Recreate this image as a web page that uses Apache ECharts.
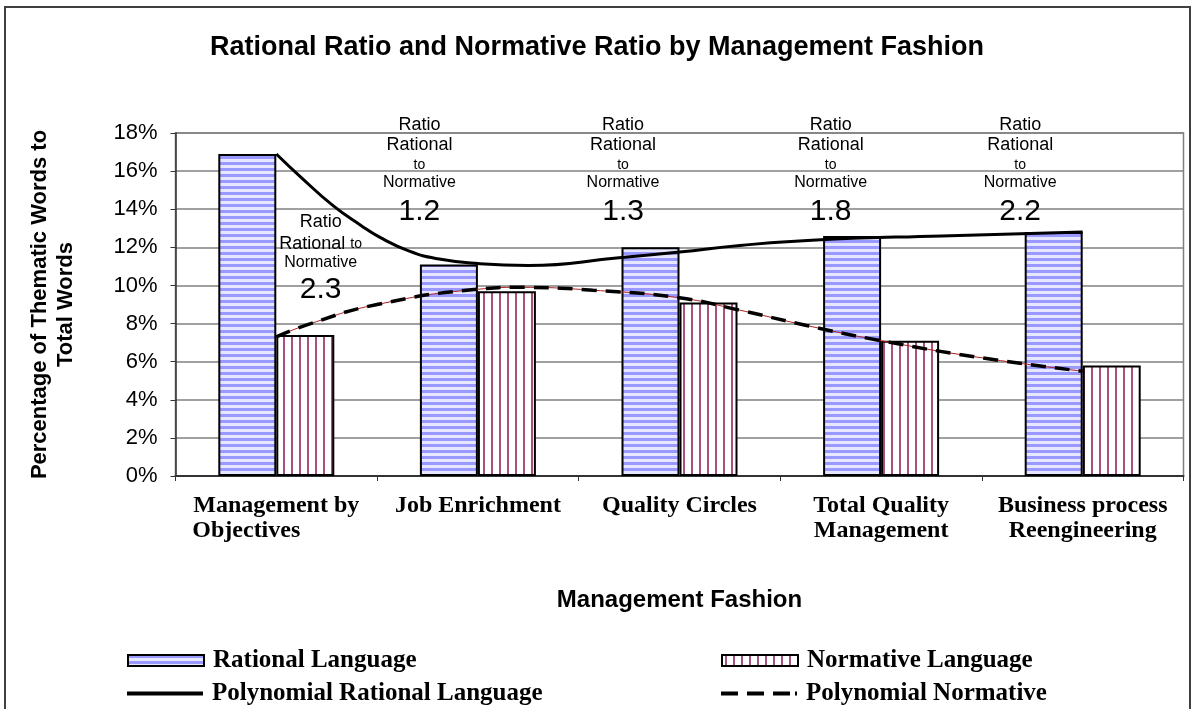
<!DOCTYPE html>
<html>
<head>
<meta charset="utf-8">
<script src="https://cdn.jsdelivr.net/npm/echarts@6/dist/echarts.min.js"></script>
<style>
html, body { margin: 0; padding: 0; background: #fff; }
#chart { width: 1194px; height: 709px; }
</style>
</head>
<body>
<div id="chart"></div>
<script>
// categories and values (percent)
var categories = ['Management by\nObjectives\u00a0\u00a0\u00a0\u00a0\u00a0\u00a0\u00a0\u00a0\u00a0\u00a0', 'Job Enrichment', 'Quality Circles', 'Total Quality\nManagement', 'Business process\nReengineering'];
var rationalValues = [16.9, 11.1, 12.0, 12.6, 12.8];
var normativeValues = [7.4, 9.7, 9.1, 7.1, 5.8];
var ratios = ['2.3', '1.2', '1.3', '1.8', '2.2'];

// trend lines, x in category units (category i centred at i + 0.5)
var rationalTrend = [[0.5, 16.9], [0.62, 15.7], [0.78, 14.2], [0.92, 13.15], [1.01, 12.55], [1.16, 11.8],
    [1.3, 11.4], [1.5, 11.15], [1.75, 11.05], [2.2, 11.45], [2.5, 11.75], [2.8, 12.1], [3.2, 12.4],
    [3.8, 12.6], [4.5, 12.8]];
var normativeTrend = [[0.5, 7.3], [0.67, 8.0], [1.0, 9.0], [1.5, 9.8], [1.7, 9.9], [2.07, 9.75], [2.5, 9.35],
    [2.8, 8.7], [3.13, 7.9], [3.5, 7.1], [4.0, 6.2], [4.5, 5.5]];

var yMin = 0, yMax = 18, yStep = 2;

// fill patterns like the excel hatching
function hPattern() {
    var c = document.createElement('canvas');
    c.width = 6; c.height = 6;
    var g = c.getContext('2d');
    g.fillStyle = '#e6e6ff'; g.fillRect(0, 0, 6, 6);
    g.fillStyle = '#9999ff'; g.fillRect(0, 0, 6, 3);
    return { image: c, repeat: 'repeat' };
}
function vPattern() {
    var c = document.createElement('canvas');
    c.width = 8; c.height = 8;
    var g = c.getContext('2d');
    g.fillStyle = '#ffffff'; g.fillRect(0, 0, 8, 8);
    g.fillStyle = '#a8507e'; g.fillRect(3, 0, 2, 8);
    return { image: c, repeat: 'repeat' };
}

var chart = echarts.init(document.getElementById('chart'));

var serif = 'Liberation Serif';
var sans = 'Liberation Sans';

// where the ratio notes sit (category units / percent)
var noteX = [0.72, 1.21, 2.22, 3.25, 4.19];
var noteY = [11.35, 15.85, 15.85, 15.85, 15.85];
var notes = [];
for (var i = 0; i < ratios.length; i++) {
    notes.push([noteX[i], noteY[i], i]);
}

var legendText = { fontFamily: serif, fontWeight: 'bold', fontSize: 25, color: '#000', padding: [0, 0, 0, 4] };
var solidIcon = 'path://M0,0h76v4h-76z';
var dashIcon = 'path://M0,0h17v4h-17z M26,0h17v4h-17z M52,0h17v4h-17z M74,0h2v4h-2z';

var option = {
    animation: false,
    title: {
        text: 'Rational Ratio and Normative Ratio by Management Fashion',
        left: 'center',
        top: 29,
        textStyle: { fontFamily: sans, fontWeight: 'bold', fontSize: 27, color: '#000' }
    },
    graphic: [{
        type: 'rect',
        shape: { x: 5, y: 7, width: 1185, height: 760 },
        style: { fill: 'none', stroke: '#404040', lineWidth: 2 },
        silent: true
    }],
    legend: [
        { data: [{ name: 'Rational Language', icon: 'rect' }], left: 127, top: 648, padding: 0, itemWidth: 76, itemHeight: 11, textStyle: legendText },
        { data: [{ name: 'Polynomial Rational Language', icon: solidIcon }], left: 127, top: 681, padding: 0, itemWidth: 76, itemHeight: 4, textStyle: legendText },
        { data: [{ name: 'Normative Language', icon: 'rect' }], left: 721, top: 648, padding: 0, itemWidth: 76, itemHeight: 11, textStyle: legendText },
        { data: [{ name: 'Polynomial Normative', icon: dashIcon }], left: 721, top: 681, padding: 0, itemWidth: 76, itemHeight: 4, textStyle: legendText }
    ],
    grid: {
        left: 175.5, right: 10.5, top: 133, bottom: 233,
        show: true, borderColor: '#808080', borderWidth: 1.5
    },
    xAxis: [{
        type: 'category',
        data: categories,
        axisLine: { lineStyle: { color: '#333', width: 2 } },
        axisTick: { show: true, length: 5, lineStyle: { color: '#333' } },
        axisLabel: {
            interval: 0, margin: 17, lineHeight: 25,
            fontFamily: serif, fontWeight: 'bold', fontSize: 24, color: '#000'
        },
        name: 'Management Fashion',
        nameLocation: 'middle',
        nameGap: 112,
        nameTextStyle: { fontFamily: sans, fontWeight: 'bold', fontSize: 24, color: '#000' }
    }, {
        type: 'value',
        min: 0, max: 5,
        show: false
    }],
    yAxis: {
        type: 'value',
        min: yMin, max: yMax, interval: yStep,
        axisLine: { show: true, lineStyle: { color: '#333', width: 1.5 } },
        axisTick: { show: true, length: 5, lineStyle: { color: '#333' } },
        splitLine: { lineStyle: { color: '#808080', width: 1.5 } },
        axisLabel: {
            formatter: '{value}%', margin: 18,
            fontFamily: sans, fontSize: 22, color: '#000'
        },
        name: 'Percentage of Thematic Words to\nTotal Words',
        nameLocation: 'middle',
        nameGap: 97,
        nameTextStyle: { fontFamily: sans, fontWeight: 'bold', fontSize: 22, lineHeight: 26, color: '#000' }
    },
    series: [{
        name: 'Rational Language',
        type: 'bar',
        data: rationalValues,
        barWidth: 58,
        barGap: '0%',
        itemStyle: { color: hPattern(), borderColor: '#000', borderWidth: 2 }
    }, {
        name: 'Normative Language',
        type: 'bar',
        data: normativeValues,
        barWidth: 58,
        itemStyle: { color: vPattern(), borderColor: '#000', borderWidth: 2 }
    }, {
        name: 'normative thin',
        type: 'line',
        xAxisIndex: 1,
        data: normativeTrend,
        smooth: true,
        symbol: 'none',
        lineStyle: { color: '#b02020', width: 1 },
        z: 4
    }, {
        name: 'Polynomial Rational Language',
        type: 'line',
        xAxisIndex: 1,
        data: rationalTrend,
        smooth: true,
        symbol: 'none',
        itemStyle: { color: '#000' },
        lineStyle: { color: '#000', width: 3 },
        z: 5
    }, {
        name: 'Polynomial Normative',
        type: 'line',
        xAxisIndex: 1,
        data: normativeTrend,
        smooth: true,
        symbol: 'none',
        itemStyle: { color: '#000' },
        lineStyle: { color: '#000', width: 3.5, type: [15, 9] },
        z: 5
    }, {
        name: 'notes',
        type: 'scatter',
        xAxisIndex: 1,
        data: notes,
        symbolSize: 0,
        silent: true,
        z: 6,
        itemStyle: { opacity: 1 },
        label: {
            show: true,
            position: 'inside',
            fontFamily: sans,
            color: '#000',
            textBorderWidth: 0,
            formatter: function (p) {
                var k = p.data[2];
                if (k === 0) {
                    return '{r2|Ratio}\n{r2|Rational }{t2|to}\n{n2|Normative}\n{v2|' + ratios[k] + '}';
                }
                return '{r|Ratio}\n{r|Rational}\n{t|to}\n{n|Normative}\n{v|' + ratios[k] + '}';
            },
            rich: {
                r: { fontFamily: sans, fontSize: 18, lineHeight: 20, color: '#000' },
                t: { fontFamily: sans, fontSize: 14, lineHeight: 20, color: '#000' },
                n: { fontFamily: sans, fontSize: 16, lineHeight: 16, color: '#000' },
                v: { fontFamily: sans, fontSize: 30, lineHeight: 42, color: '#000' },
                r2: { fontFamily: sans, fontSize: 18, lineHeight: 22, color: '#000' },
                t2: { fontFamily: sans, fontSize: 14, lineHeight: 22, color: '#000' },
                n2: { fontFamily: sans, fontSize: 16, lineHeight: 16, color: '#000' },
                v2: { fontFamily: sans, fontSize: 30, lineHeight: 38, color: '#000' }
            }
        }
    }]
};
chart.setOption(option);
</script>
</body>
</html>
